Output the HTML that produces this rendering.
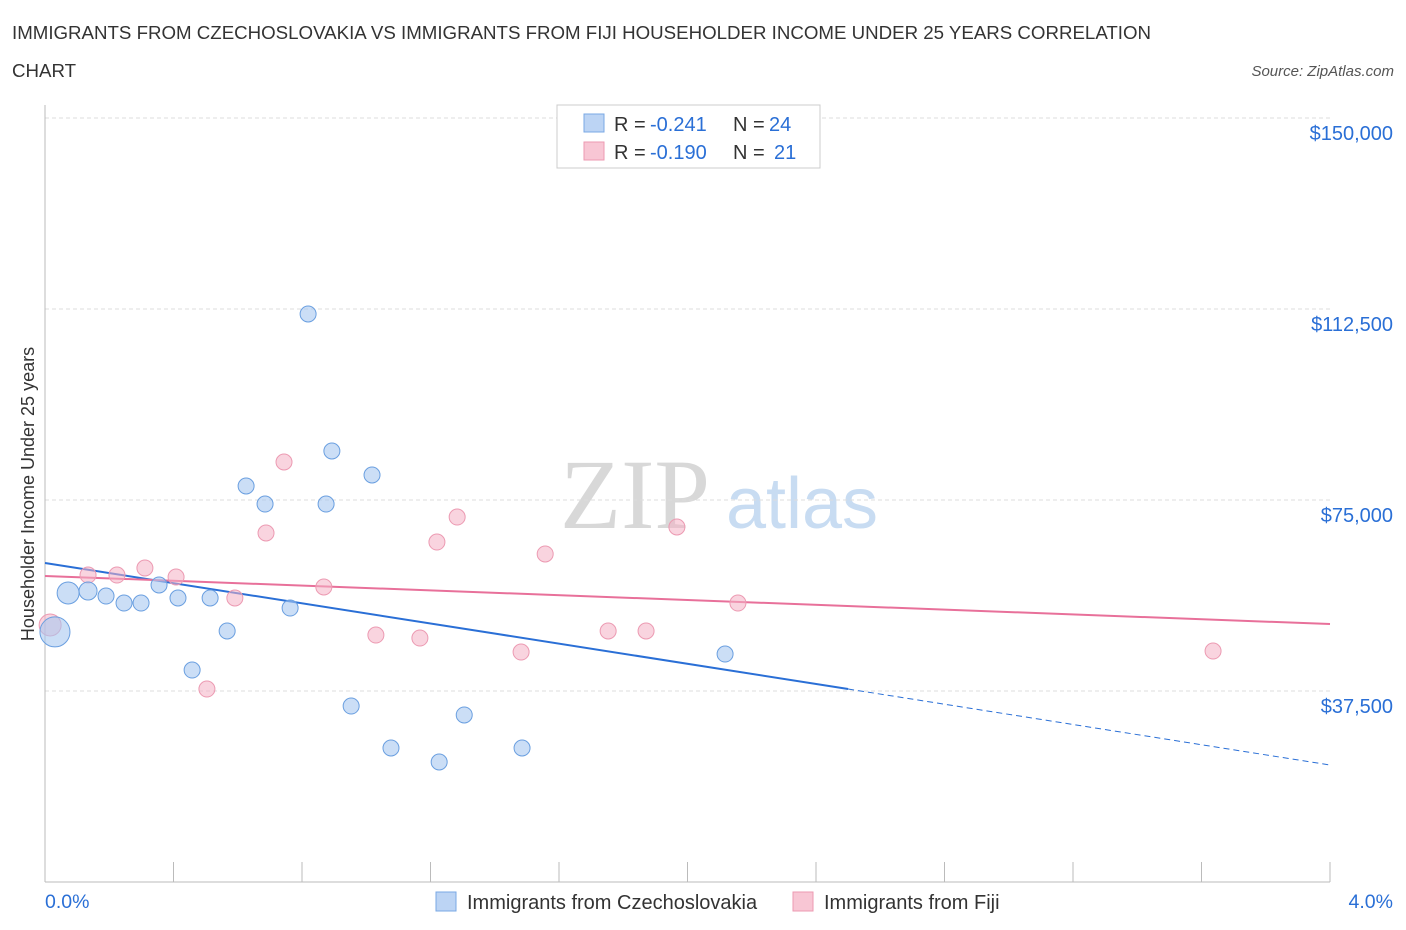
<!DOCTYPE html>
<html><head><meta charset="utf-8"><style>
body{margin:0;background:#fff;font-family:"Liberation Sans",sans-serif}
svg{display:block}
</style></head><body>
<svg id="chart" width="1406" height="930" viewBox="0 0 1406 930">
<text x="12" y="39" font-size="18.7" fill="#333">IMMIGRANTS FROM CZECHOSLOVAKIA VS IMMIGRANTS FROM FIJI HOUSEHOLDER INCOME UNDER 25 YEARS CORRELATION</text>
<text x="12" y="77" font-size="18.7" fill="#333">CHART</text>
<text x="1394" y="76" font-size="15" fill="#555" font-style="italic" text-anchor="end">Source: ZipAtlas.com</text>
<text x="635" y="528" font-size="100" fill="#d8d8d8" font-family="Liberation Serif,serif" text-anchor="middle">ZIP</text>
<text x="802" y="528" font-size="72" fill="#c8dcf2" text-anchor="middle">atlas</text>
<text transform="translate(34,494) rotate(-90)" font-size="18" fill="#333" text-anchor="middle">Householder Income Under 25 years</text>
<g id="grid"></g><g id="lines"></g><g id="pts"></g>
<g>
<rect x="557" y="105" width="263" height="63" fill="#fff" stroke="#ccc"/>
<rect x="584" y="114" width="20" height="18" fill="#bcd4f4" stroke="#7aa8e4"/>
<rect x="584" y="142" width="20" height="18" fill="#f8c6d4" stroke="#ec9ab2"/>
<text x="614" y="131" font-size="20" fill="#333">R =</text>
<text x="650" y="131" font-size="20" fill="#2a6fd6">-0.241</text>
<text x="733" y="131" font-size="20" fill="#333">N =</text>
<text x="769" y="131" font-size="20" fill="#2a6fd6">24</text>
<text x="614" y="159" font-size="20" fill="#333">R =</text>
<text x="650" y="159" font-size="20" fill="#2a6fd6">-0.190</text>
<text x="733" y="159" font-size="20" fill="#333">N =</text>
<text x="774" y="159" font-size="20" fill="#2a6fd6">21</text>
</g>
<g>
<rect x="436" y="892" width="20" height="19" fill="#bcd4f4" stroke="#7aa8e4"/>
<text x="467" y="909" font-size="20" fill="#333">Immigrants from Czechoslovakia</text>
<rect x="793" y="892" width="20" height="19" fill="#f8c6d4" stroke="#ec9ab2"/>
<text x="824" y="909" font-size="20" fill="#333">Immigrants from Fiji</text>
</g>
<text x="45" y="908" font-size="19.5" fill="#2a6fd6">0.0%</text>
<text x="1393" y="908" font-size="19.5" fill="#2a6fd6" text-anchor="end">4.0%</text>
</svg>
<script>
const yTicks=[150000,112500,75000,37500];
const yTickLabels=["$150,000","$112,500","$75,000","$37,500"];
const xTicks=[0,0.4,0.8,1.2,1.6,2,2.4,2.8,3.2,3.6,4];
const blueX=[0.031,0.072,0.134,0.190,0.246,0.299,0.355,0.414,0.458,0.514,0.567,0.626,0.685,0.763,0.819,0.875,0.893,0.953,1.018,1.077,1.227,1.305,1.485,2.117];
const blueY=[49100,56740,57130,56150,54775,54775,58310,55760,41620,55760,49280,77750,74210,53790,111520,74210,84620,34550,79910,26310,23560,32790,26310,44760];
const blueR=[15,11,9,8,8,8,8,8,8,8,8,8,8,8,8,8,8,8,8,8,8,8,8,8];
const pinkX=[0.016,0.134,0.224,0.311,0.408,0.504,0.591,0.688,0.744,0.868,1.030,1.167,1.220,1.283,1.482,1.557,1.753,1.871,1.967,2.157,3.636];
const pinkY=[50460,60270,60270,61650,59880,37890,55760,68520,82460,57920,48490,47900,66750,71660,45150,64400,49280,49280,69700,54775,45350];
const pinkR=[11,8,8,8,8,8,8,8,8,8,8,8,8,8,8,8,8,8,8,8,8];
const blueTrendX=[0,2.5,4];
const blueTrendY=[62630,37890,22970];
const pinkTrendX=[0,4];
const pinkTrendY=[60080,50650];
const NS="http://www.w3.org/2000/svg";
const sx=v=>45+v/4*1285;
const sy=v=>118+(150000-v)/37500*191;
function mk(tag,parent,attrs){const e=document.createElementNS(NS,tag);for(const k in attrs)e.setAttribute(k,attrs[k]);parent.appendChild(e);return e;}
const grid=document.getElementById('grid');
yTicks.forEach((t,i)=>{
 const l=mk('line',grid,{x1:45,x2:1330,y1:sy(t),y2:sy(t),stroke:'#ddd','stroke-dasharray':'4,3'});
 
 
 const tx=mk('text',grid,{x:1393,y:sy(t)+22,'font-size':20,fill:'#2a6fd6','text-anchor':'end'});
 tx.textContent=yTickLabels[i];
 
 
});
const ax=mk('line',grid,{x1:45,x2:1330,y1:882,y2:882,stroke:'#bbb'});


const ay=mk('line',grid,{x1:45,x2:45,y1:105,y2:882,stroke:'#bbb'});


xTicks.forEach(t=>{
 const l=mk('line',grid,{x1:sx(t),x2:sx(t),y1:862,y2:882,stroke:'#bbb'});
 
 
});
const lines=document.getElementById('lines');
const b1=mk('line',lines,{x1:sx(blueTrendX[0]),y1:sy(blueTrendY[0]),x2:sx(blueTrendX[1]),y2:sy(blueTrendY[1]),stroke:'#2a6fd6','stroke-width':2});


const b2=mk('line',lines,{x1:sx(blueTrendX[1]),y1:sy(blueTrendY[1]),x2:sx(blueTrendX[2]),y2:sy(blueTrendY[2]),stroke:'#2a6fd6','stroke-width':1,'stroke-dasharray':'6,4'});


const p1=mk('line',lines,{x1:sx(pinkTrendX[0]),y1:sy(pinkTrendY[0]),x2:sx(pinkTrendX[1]),y2:sy(pinkTrendY[1]),stroke:'#e8709a','stroke-width':2});


const pts=document.getElementById('pts');
pinkX.forEach((x,i)=>{
 const c=mk('circle',pts,{cx:sx(x),cy:sy(pinkY[i]),r:pinkR[i],fill:'rgba(244,176,196,0.55)',stroke:'#ec9ab2','stroke-width':1});
 
 
});
blueX.forEach((x,i)=>{
 const c=mk('circle',pts,{cx:sx(x),cy:sy(blueY[i]),r:blueR[i],fill:'rgba(168,200,240,0.6)',stroke:'#6a9fe0','stroke-width':1});
 
 
});
</script>
</body></html>
